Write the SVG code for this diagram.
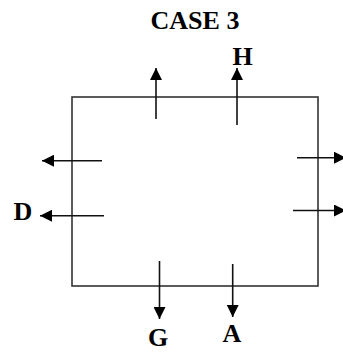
<svg xmlns="http://www.w3.org/2000/svg" width="343" height="353" viewBox="0 0 343 353">
<style>
.lbl{font-family:"Liberation Serif","Times New Roman",serif;font-weight:bold;fill:#000;text-anchor:middle;font-size:26px}
.box{fill:none;stroke:#333;stroke-width:1.6}
.arr{stroke:#111;stroke-width:1.6;fill:none;marker-end:url(#ah)}
</style>
<defs>
<marker id="ah" markerUnits="userSpaceOnUse" markerWidth="12" markerHeight="12" refX="12" refY="6" orient="auto">
<path d="M0,0 L12,6 L0,12 Z" fill="#000"/>
</marker>
</defs>
<rect width="343" height="353" fill="#fff"/>
<g id="title"><text class="lbl" x="195" y="29">CASE 3</text></g>
<g id="box"><rect class="box" x="72" y="97" width="246" height="189"/></g>
<g id="label-H"><text class="lbl" x="242.5" y="65">H</text></g>
<g id="label-D"><text class="lbl" x="23" y="220">D</text></g>
<g id="label-G"><text class="lbl" x="158" y="346">G</text></g>
<g id="label-A"><text class="lbl" x="232" y="342">A</text></g>
<g id="connectors">
<line class="arr" x1="156" y1="119" x2="156" y2="68"/>
<line class="arr" x1="237" y1="125" x2="237" y2="68"/>
<line class="arr" x1="102" y1="160.7" x2="42" y2="160.7"/>
<line class="arr" x1="104" y1="215.7" x2="40" y2="215.7"/>
<line class="arr" x1="297" y1="157.7" x2="346" y2="157.7"/>
<line class="arr" x1="293" y1="210.5" x2="346" y2="210.5"/>
<line class="arr" x1="159.5" y1="261" x2="159.5" y2="319"/>
<line class="arr" x1="232.7" y1="264" x2="232.7" y2="317"/>
</g>
</svg>
